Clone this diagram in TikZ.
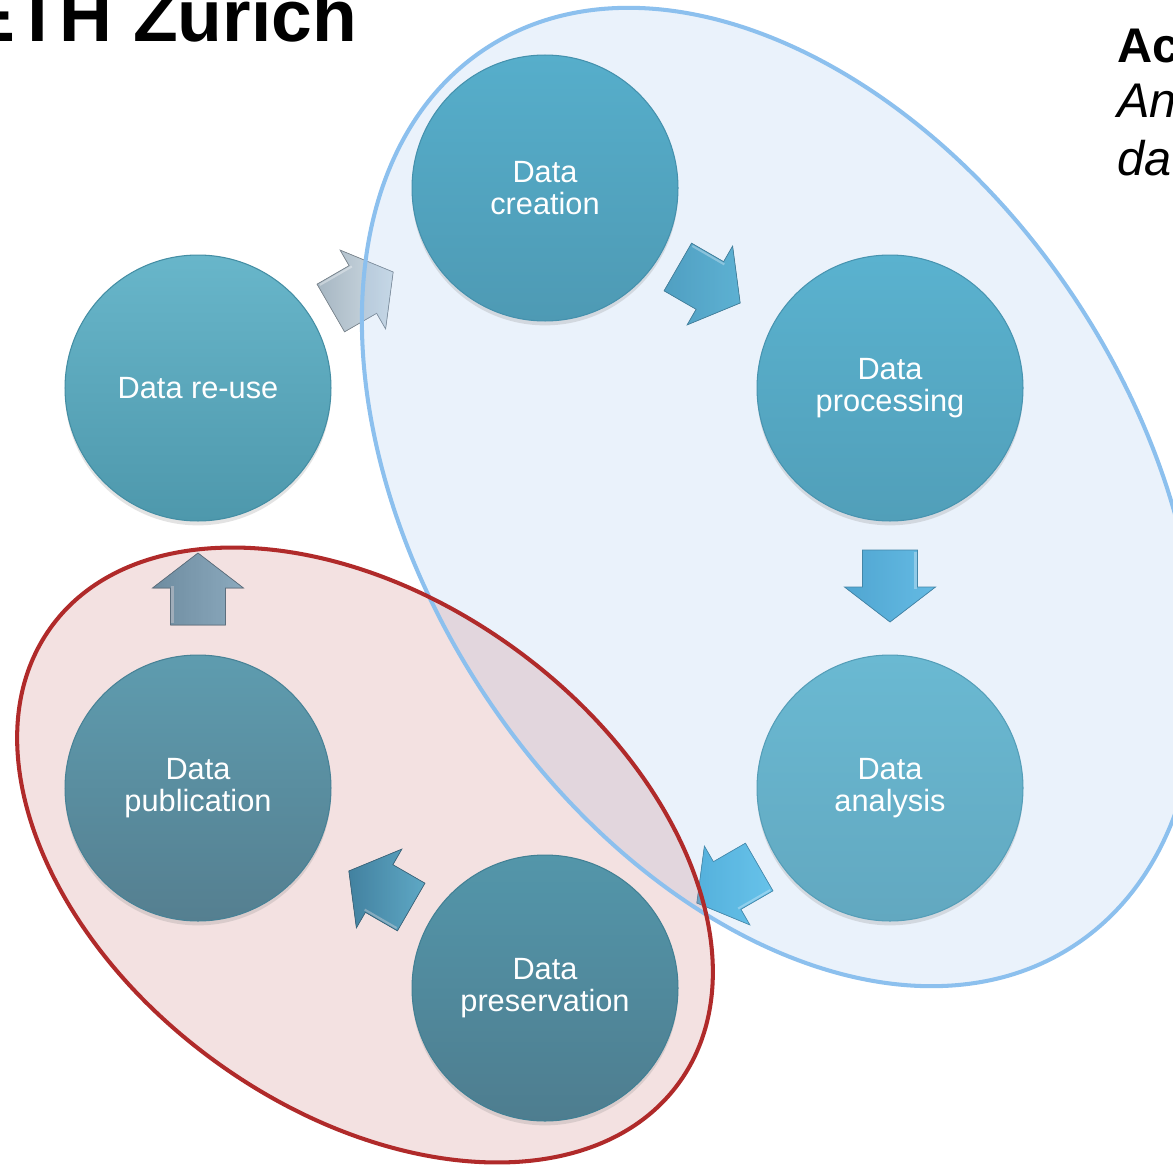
\documentclass[tikz,border=0pt]{standalone}
\usepackage{fontspec}
\setmainfont{Liberation Sans}
\usetikzlibrary{shadows}
\definecolor{blueEfill}{HTML}{96BEEB}
\definecolor{blueEline}{HTML}{8CC0EE}
\definecolor{redEfill}{HTML}{C36969}
\definecolor{redEline}{HTML}{B02A2A}
\newcommand\cycarrow[5]{%
  \definecolor{arrA}{HTML}{#4}\definecolor{arrB}{HTML}{#5}%
  \begin{scope}[shift={(#1,#2)}, rotate=#3]
    \fill[left color=arrB, right color=arrA, draw=arrB!75!black, line width=0.4pt]
      (-36,-27.5) -- (1,-27.5) -- (1,-45.5) -- (36,0) -- (1,45.5) -- (1,27.5) -- (-36,27.5) -- cycle;
    \draw[white, opacity=0.35, line width=1.2pt] (-34,-25.5) -- (3,-25.5);
  \end{scope}}
\tikzset{
  phase/.style={circle, minimum size=5.32cm, inner sep=0pt, align=center, text=white,
    font=\fontsize{17.5}{18.3}\selectfont, line width=0.6pt,
    drop shadow={opacity=0.22, shadow xshift=0pt, shadow yshift=-2.5pt}},
  hdr/.style={anchor=base west, inner sep=0pt, text=black}
}
\begin{document}
\begin{tikzpicture}[x=0.02cm, y=-0.02cm]
\useasboundingbox (0,0) rectangle (1173,1166);
\clip (0,0) rectangle (1173,1166);
\fill[white] (0,0) rectangle (1173,1166);

% header texts
\node[hdr, font=\bfseries\fontsize{41.7}{45}\selectfont] (title) at (-34,42) {ETH Zürich};
\node[hdr, font=\bfseries\fontsize{27.7}{30}\selectfont] (ac) at (1117,63) {Ac};
\node[hdr, font=\itshape\fontsize{27.7}{30}\selectfont] (an) at (1117,117) {An};
\node[hdr, font=\itshape\fontsize{27.7}{30}\selectfont] (da) at (1117,175) {dat};

% arrows
\cycarrow{709}{285}{-30}{4FAECD}{3F98B8}
\cycarrow{890}{586}{-90}{58BAE2}{3FA0CB}
\cycarrow{728}{885}{-150}{5CC4EA}{45AED9}
\cycarrow{380}{889}{150}{46B8DC}{2388AE}
\cycarrow{198}{589}{90}{7EBAD3}{5995AE}
\cycarrow{362}{290}{30}{D2DEE6}{A6B6C2}

% ellipse fills
\fill[blueEfill, fill opacity=0.2, rotate around={-56.75:(780,497)}]
  (780,497) ellipse [x radius=10.73cm, y radius=7.11cm];
\fill[redEfill, fill opacity=0.2, rotate around={-36:(365,855)}]
  (365,855) ellipse [x radius=7.76cm, y radius=5.1cm];

% phases
\node[phase, top color={rgb,255:red,86;green,174;blue,203}, bottom color={rgb,255:red,78;green,154;blue,180}, draw={rgb,255:red,69;green,145;blue,173}] (creation) at (545,188) {Data\\creation};
\node[phase, top color={rgb,255:red,90;green,178;blue,207}, bottom color={rgb,255:red,81;green,159;blue,185}, draw={rgb,255:red,72;green,148;blue,176}] (processing) at (890,388) {Data\\processing};
\node[phase, top color={rgb,255:red,106;green,185;blue,210}, bottom color={rgb,255:red,98;green,168;blue,192}, draw={rgb,255:red,85;green,158;blue,184}] (analysis) at (890,788) {Data\\analysis};
\node[phase, top color={rgb,255:red,83;green,150;blue,170}, bottom color={rgb,255:red,78;green,125;blue,143}, draw={rgb,255:red,66;green,128;blue,148}] (preservation) at (545,988) {Data\\preservation};
\node[phase, top color={rgb,255:red,94;green,156;blue,175}, bottom color={rgb,255:red,85;green,127;blue,144}, draw={rgb,255:red,72;green,130;blue,150}] (publication) at (198,788) {Data\\publication};
\node[phase, top color={rgb,255:red,104;green,182;blue,202}, bottom color={rgb,255:red,78;green,152;blue,172}, draw={rgb,255:red,68;green,142;blue,164}] (reuse) at (198,388) {Data re-use};

% ellipse outlines
\draw[blueEline, line width=2.3pt, rotate around={-56.75:(780,497)}]
  (780,497) ellipse [x radius=10.73cm, y radius=7.11cm];
\draw[redEline, line width=2.3pt, rotate around={-36:(365,855)}]
  (365,855) ellipse [x radius=7.76cm, y radius=5.1cm];
\end{tikzpicture}
\end{document}
